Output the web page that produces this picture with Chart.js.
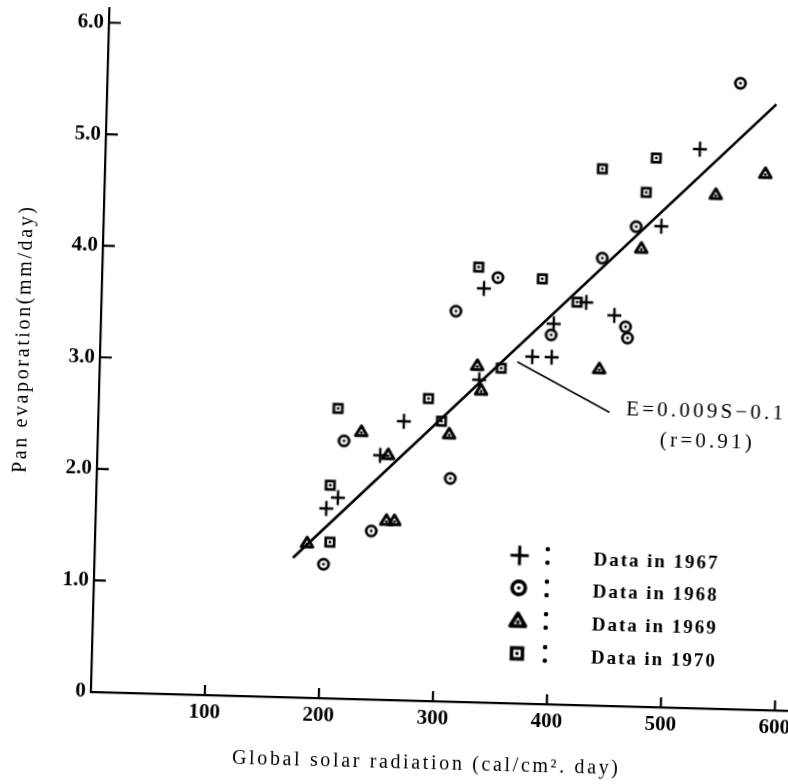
<!DOCTYPE html>
<html>
<head>
<meta charset="utf-8">
<script src="https://cdn.jsdelivr.net/npm/chart.js@4.4.1/dist/chart.umd.min.js"></script>
<style>
  html, body { margin: 0; background: #fff; overflow: hidden; }
  #wrap { width: 788px; height: 784px; position: relative; overflow: hidden; }
  /* the scanned figure sits slightly turned on the page */
  canvas { position: absolute; left: 0; top: 0; background: #fff;
           transform: rotate(1.55deg); transform-origin: 394px 392px; }
</style>
</head>
<body>
<div id="wrap"><canvas id="evap" width="820" height="800"></canvas></div>
<script>
// Global solar radiation S (cal/cm2.day) and pan evaporation E (mm/day)
const s1967 = [202, 212, 248, 268, 333, 335, 379, 396, 397, 425, 450, 489, 521];
const e1967 = [1.70, 1.80, 2.19, 2.50, 2.89, 3.71, 3.11, 3.11, 3.41, 3.61, 3.50, 4.31, 5.01];

const s1968 = [201, 216, 242, 310, 311, 347, 395, 438, 460, 462, 467, 555];
const e1968 = [1.20, 2.31, 1.51, 2.00, 3.50, 3.81, 3.31, 4.01, 3.40, 3.30, 4.30, 5.61];

const s1969 = [186, 231, 255, 255, 262, 308, 331, 335, 438, 472, 536, 579];
const e1969 = [1.39, 2.40, 2.20, 1.61, 1.61, 2.40, 3.02, 2.80, 3.02, 4.11, 4.61, 4.81];

const s1970 = [206, 205, 210, 289, 301, 330, 352, 386, 417, 436, 475, 483];
const e1970 = [1.40, 1.91, 2.60, 2.71, 2.51, 3.90, 3.00, 3.81, 3.61, 4.81, 4.61, 4.92];

// regression line as drawn, and the pointer to its label
const fitS = [174, 587];
const fitE = [1.25, 5.43];
const calloutS = [366, 448];
const calloutE = [3.06, 2.63];

const xTicks = [100, 200, 300, 400, 500, 600];
const yTicks = [0, 1, 2, 3, 4, 5, 6];

const seriesLabels = ['Data in 1967', 'Data in 1968', 'Data in 1969', 'Data in 1970'];
const equation = 'E=0.009S\u22120.1';
const corr = '(r=0.91)';
const xTitle = 'Global solar radiation (cal/cm\u00b2. day)';
const yTitle = 'Pan evaporation(mm/day)';

const INK = '#000';
const SERIF = "'Liberation Serif', 'Times New Roman', serif";

function pts(xs, ys) {
    return xs.map((v, i) => ({ x: v, y: ys[i] }));
}

// marker glyphs: plus, dotted circle, dotted triangle, dotted square
function makeSymbol(kind, k) {
    const c = document.createElement('canvas');
    c.width = Math.ceil(22 * k); c.height = Math.ceil(22 * k);
    const g = c.getContext('2d');
    g.strokeStyle = INK; g.fillStyle = INK;
    g.translate(c.width / 2, c.height / 2);
    g.scale(k, k);
    if (kind === 'plus') {
        g.lineWidth = 2.4;
        g.beginPath();
        g.moveTo(-7, 0); g.lineTo(7, 0);
        g.moveTo(0, -7.5); g.lineTo(0, 7.5);
        g.stroke();
        return c;
    }
    if (kind === 'circle') {
        g.lineWidth = 2.8;
        g.beginPath(); g.arc(0, 0, 5.1, 0, Math.PI * 2); g.stroke();
    }
    if (kind === 'triangle') {
        g.lineWidth = 3; g.lineJoin = 'round';
        g.beginPath();
        g.moveTo(0, -5.4); g.lineTo(5.8, 4.3); g.lineTo(-5.8, 4.3);
        g.closePath(); g.stroke();
    }
    if (kind === 'square') {
        g.lineWidth = 2.7;
        g.strokeRect(-4.2, -4.2, 8.4, 8.4);
    }
    g.beginPath();
    g.arc(0, kind === 'triangle' ? 1.3 : 0, 1.4, 0, Math.PI * 2);
    g.fill();
    return c;
}

const kinds = ['plus', 'circle', 'triangle', 'square'];
const symbols = kinds.map(kd => makeSymbol(kd, 1));
const legendSymbols = kinds.map(kd => makeSymbol(kd, 1.3));

// draws text spread out to a given width (the original is letter-spaced)
function spreadText(ctx, text, cx, cy, width) {
    ctx.letterSpacing = '0px';
    const w = ctx.measureText(text).width;
    const gap = Math.max(0, (width - w) / (text.length - 1));
    ctx.letterSpacing = gap + 'px';
    ctx.textAlign = 'left';
    ctx.textBaseline = 'middle';
    ctx.fillText(text, cx - width / 2, cy);
    ctx.letterSpacing = '0px';
}

const annotations = {
    id: 'annotations',
    afterDraw(chart) {
        const { ctx, chartArea: a, scales: { x, y } } = chart;
        ctx.save();
        ctx.strokeStyle = INK;
        ctx.fillStyle = INK;

        // tick marks pointing into the plot
        ctx.lineWidth = 2.2;
        ctx.beginPath();
        yTicks.filter(v => v > 0).forEach(v => {
            const py = y.getPixelForValue(v);
            ctx.moveTo(a.left, py); ctx.lineTo(a.left + 12, py);
        });
        xTicks.forEach(v => {
            const px = x.getPixelForValue(v);
            ctx.moveTo(px, a.bottom); ctx.lineTo(px, a.bottom - 10);
        });
        ctx.stroke();

        // regression equation
        ctx.font = '21px ' + SERIF;
        spreadText(ctx, equation, 705, 403, 157);
        spreadText(ctx, corr, 707, 433, 92);

        // legend: symbol, colon, label
        ctx.font = 'bold 19px ' + SERIF;
        const rows = [552, 584.5, 617, 650];
        rows.forEach((ry, i) => {
            const img = legendSymbols[i];
            ctx.drawImage(img, 524 - img.width / 2, ry - img.height / 2);
            ctx.beginPath();
            ctx.arc(552, ry - 7, 2.3, 0, Math.PI * 2);
            ctx.arc(552, ry + 6.5, 2.3, 0, Math.PI * 2);
            ctx.fill();
            spreadText(ctx, seriesLabels[i], 598 + 62, ry + 3, 124);
        });

        // axis titles
        ctx.font = '20px ' + SERIF;
        spreadText(ctx, xTitle, 435, 763, 386);
        ctx.translate(23, 350);
        ctx.rotate(-Math.PI / 2);
        spreadText(ctx, yTitle, 0, 0, 266);
        ctx.restore();
    }
};

function evaporationChart() {
    const canvas = document.getElementById('evap');
    const ctx = canvas.getContext('2d');

    const years = [[s1967, e1967], [s1968, e1968], [s1969, e1969], [s1970, e1970]];
    const datasets = years.map(([s, e], i) => ({
        label: seriesLabels[i],
        data: pts(s, e),
        pointStyle: symbols[i],
        pointRadius: 7,
        pointHoverRadius: 7
    }));
    datasets.push({
        label: 'fit',
        data: pts(fitS, fitE),
        showLine: true,
        borderColor: INK,
        borderWidth: 2.6,
        pointRadius: 0
    });
    datasets.push({
        label: 'callout',
        data: pts(calloutS, calloutE),
        showLine: true,
        borderColor: INK,
        borderWidth: 1.6,
        pointRadius: 0
    });

    new Chart(ctx, {
        type: 'scatter',
        data: { datasets: datasets },
        options: {
            responsive: false,
            animation: false,
            layout: { padding: { top: 16, right: 23, left: 0, bottom: 0 } },
            scales: {
                x: {
                    type: 'linear',
                    min: 0,
                    max: 612,
                    grid: { display: false, drawTicks: false },
                    border: { color: INK, width: 2.2 },
                    ticks: {
                        color: INK,
                        padding: 5,
                        font: { family: SERIF, size: 21, weight: 'bold' }
                    },
                    afterBuildTicks: s => { s.ticks = xTicks.map(v => ({ value: v })); },
                    afterFit: s => { s.height = 100; s.paddingLeft = 0; s.paddingRight = 0; }
                },
                y: {
                    type: 'linear',
                    min: 0,
                    max: 6.13,
                    grid: { display: false, drawTicks: false },
                    border: { color: INK, width: 2.2 },
                    ticks: {
                        color: INK,
                        padding: 5,
                        font: { family: SERIF, size: 21, weight: 'bold' },
                        callback: v => v === 0 ? '0' : v.toFixed(1)
                    },
                    afterBuildTicks: s => { s.ticks = yTicks.map(v => ({ value: v })); },
                    afterFit: s => { s.width = 99; s.paddingTop = 0; s.paddingBottom = 0; }
                }
            },
            plugins: {
                legend: { display: false },
                tooltip: { enabled: false }
            }
        },
        plugins: [annotations]
    });
}

evaporationChart();
</script>
</body>
</html>
